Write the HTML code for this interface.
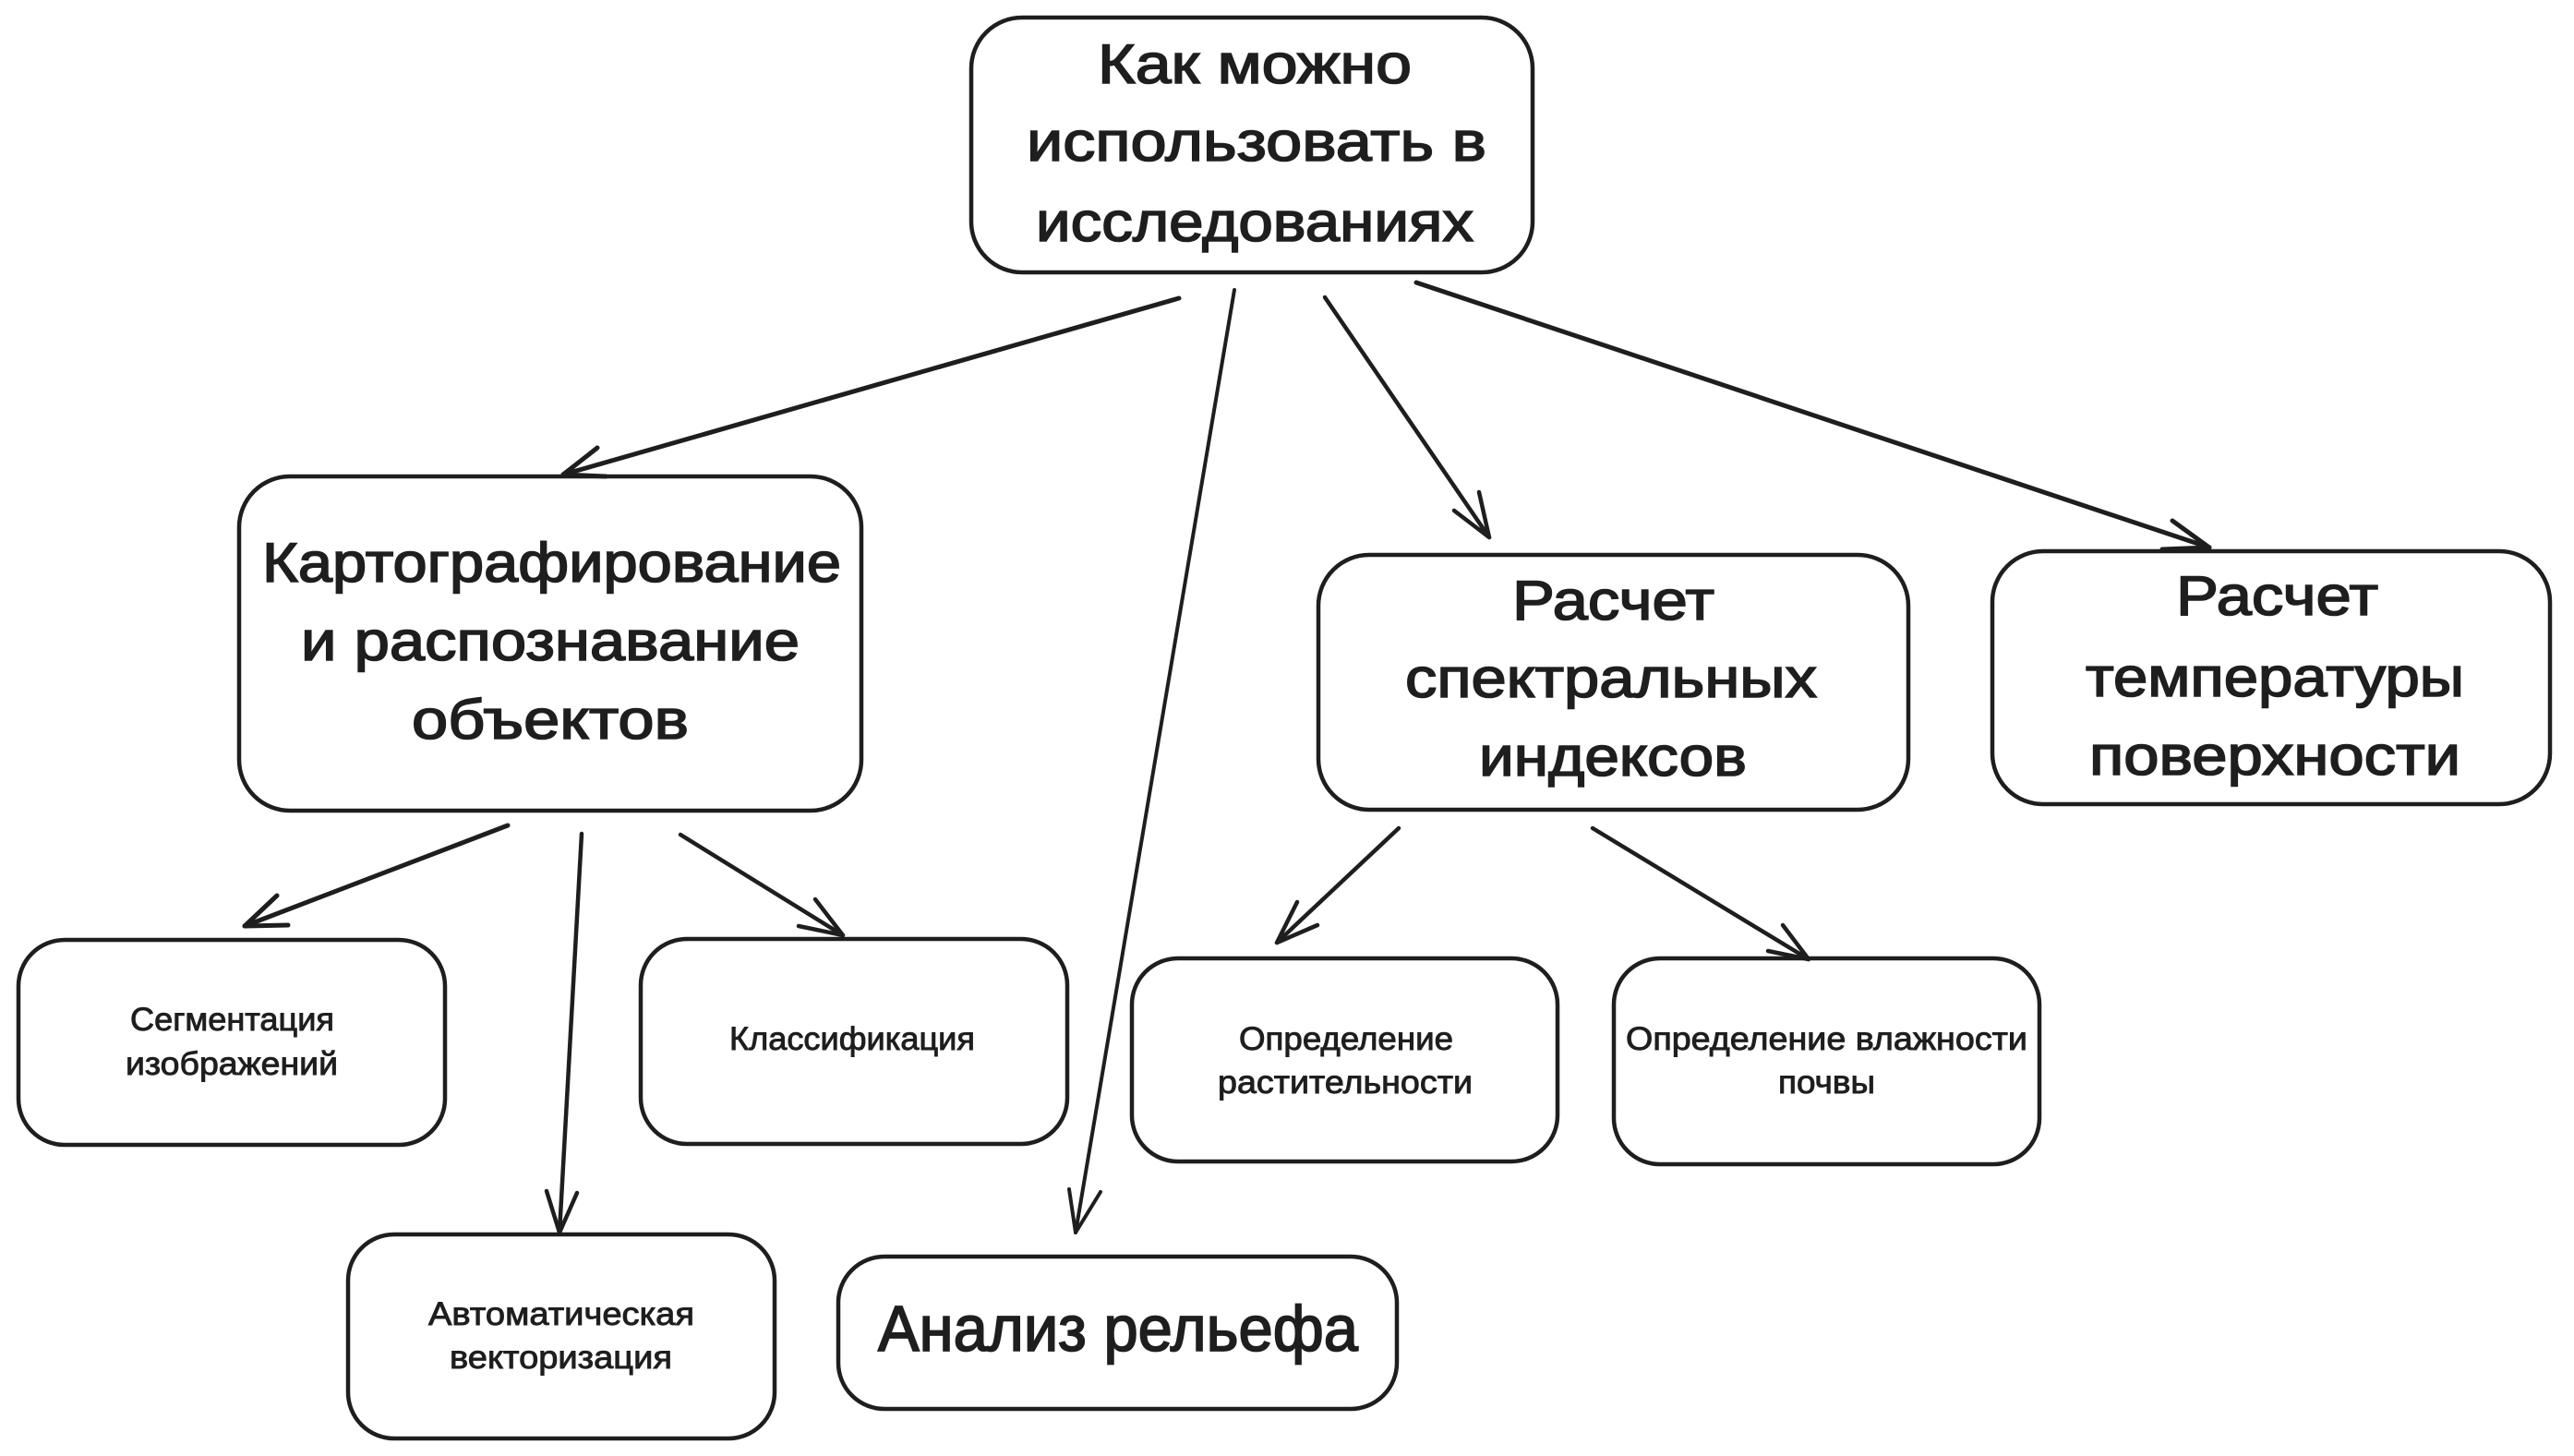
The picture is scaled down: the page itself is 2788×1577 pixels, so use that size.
<!DOCTYPE html>
<html>
<head>
<meta charset="utf-8">
<style>
  html, body { margin: 0; padding: 0; background: #ffffff; }
  svg { display: block; }
  .t { font-family: "Liberation Sans", "DejaVu Sans", sans-serif; fill: #1e1e1e; stroke: #1e1e1e; }
  .big { font-size: 60px; stroke-width: 1.6px; }
  .mid { font-size: 70px; stroke-width: 1.8px; }
  .sm { font-size: 35px; stroke-width: 0.9px; }
  .box { fill: none; stroke: #1e1e1e; stroke-width: 4.5; }
  .ar { fill: none; stroke: #1e1e1e; stroke-linecap: round; stroke-linejoin: round; }
</style>
</head>
<body>
<svg width="2788" height="1577" viewBox="0 0 2788 1577" xmlns="http://www.w3.org/2000/svg">
  <rect x="0" y="0" width="2788" height="1577" fill="#ffffff"/>

  <!-- Boxes -->
  <rect class="box" x="1052" y="19" width="608" height="276" rx="55" ry="55"/>
  <rect class="box" x="259" y="516" width="674" height="362" rx="55" ry="55"/>
  <rect class="box" x="1428" y="601" width="639" height="276" rx="55" ry="55"/>
  <rect class="box" x="2158" y="597" width="604" height="274" rx="55" ry="55"/>
  <rect class="box" x="20" y="1018" width="462" height="222" rx="50" ry="50"/>
  <rect class="box" x="694" y="1017" width="462" height="222" rx="50" ry="50"/>
  <rect class="box" x="377" y="1337" width="462" height="221" rx="50" ry="50"/>
  <rect class="box" x="908" y="1361" width="605" height="165" rx="50" ry="50"/>
  <rect class="box" x="1226" y="1038" width="461" height="220" rx="50" ry="50"/>
  <rect class="box" x="1748" y="1038" width="461" height="223" rx="50" ry="50"/>

  <!-- Arrows -->
  <g class="ar" stroke-width="5">
    <path d="M1277 323 L610 514"/>
    <path d="M647 485 L610 514 L656 516"/>
  </g>
  <g class="ar" stroke-width="4">
    <path d="M1337 314 L1165 1335"/>
    <path d="M1158 1288 L1165 1335 L1192 1291"/>
  </g>
  <g class="ar" stroke-width="4.5">
    <path d="M1435 322 L1613 582"/>
    <path d="M1575 553 L1613 582 L1602 533"/>
  </g>
  <g class="ar" stroke-width="5">
    <path d="M1534 306 L2393 593"/>
    <path d="M2353 564 L2393 593 L2342 595"/>
  </g>
  <g class="ar" stroke-width="5">
    <path d="M550 894 L265 1003"/>
    <path d="M300 970 L265 1003 L312 1002"/>
  </g>
  <g class="ar" stroke-width="4.5">
    <path d="M630 903 L606 1335"/>
    <path d="M592 1290 L606 1335 L625 1292"/>
  </g>
  <g class="ar" stroke-width="4.5">
    <path d="M737 904 L913 1013"/>
    <path d="M883 974 L913 1013 L865 1003"/>
  </g>
  <g class="ar" stroke-width="4.5">
    <path d="M1515 897 L1383 1021"/>
    <path d="M1405 977 L1383 1021 L1427 1002"/>
  </g>
  <g class="ar" stroke-width="4.5">
    <path d="M1725 897 L1959 1039"/>
    <path d="M1931 1002 L1959 1039 L1915 1030"/>
  </g>

  <!-- Top box text -->
  <text class="t big" x="1189" y="90" textLength="340" lengthAdjust="spacingAndGlyphs">Как можно</text>
  <text class="t big" x="1112" y="174" textLength="498" lengthAdjust="spacingAndGlyphs">использовать в</text>
  <text class="t big" x="1122" y="261" textLength="474" lengthAdjust="spacingAndGlyphs">исследованиях</text>

  <!-- Kartografirovanie -->
  <text class="t big" x="284" y="630" textLength="627" lengthAdjust="spacingAndGlyphs">Картографирование</text>
  <text class="t big" x="326" y="715" textLength="540" lengthAdjust="spacingAndGlyphs">и распознавание</text>
  <text class="t big" x="446" y="800" textLength="300" lengthAdjust="spacingAndGlyphs">объектов</text>

  <!-- Raschet spektral'nyh -->
  <text class="t big" x="1638" y="671" textLength="219" lengthAdjust="spacingAndGlyphs">Расчет</text>
  <text class="t big" x="1522" y="755" textLength="446" lengthAdjust="spacingAndGlyphs">спектральных</text>
  <text class="t big" x="1602" y="840" textLength="290" lengthAdjust="spacingAndGlyphs">индексов</text>

  <!-- Raschet temperatury -->
  <text class="t big" x="2357" y="666" textLength="219" lengthAdjust="spacingAndGlyphs">Расчет</text>
  <text class="t big" x="2259" y="754" textLength="410" lengthAdjust="spacingAndGlyphs">температуры</text>
  <text class="t big" x="2263" y="839" textLength="402" lengthAdjust="spacingAndGlyphs">поверхности</text>

  <!-- Small boxes -->
  <text class="t sm" x="141" y="1116" textLength="221" lengthAdjust="spacingAndGlyphs">Сегментация</text>
  <text class="t sm" x="136" y="1164" textLength="230" lengthAdjust="spacingAndGlyphs">изображений</text>

  <text class="t sm" x="790" y="1137" textLength="266" lengthAdjust="spacingAndGlyphs">Классификация</text>

  <text class="t sm" x="464" y="1435" textLength="288" lengthAdjust="spacingAndGlyphs">Автоматическая</text>
  <text class="t sm" x="487" y="1482" textLength="241" lengthAdjust="spacingAndGlyphs">векторизация</text>

  <text class="t mid" x="951" y="1463" textLength="520" lengthAdjust="spacingAndGlyphs">Анализ рельефа</text>

  <text class="t sm" x="1342" y="1137" textLength="232" lengthAdjust="spacingAndGlyphs">Определение</text>
  <text class="t sm" x="1319" y="1184" textLength="276" lengthAdjust="spacingAndGlyphs">растительности</text>

  <text class="t sm" x="1761" y="1137" textLength="435" lengthAdjust="spacingAndGlyphs">Определение влажности</text>
  <text class="t sm" x="1926" y="1184" textLength="105" lengthAdjust="spacingAndGlyphs">почвы</text>
</svg>
</body>
</html>
